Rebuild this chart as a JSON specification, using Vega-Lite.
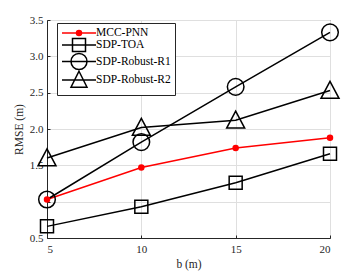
{
  "$schema": "https://vega.github.io/schema/vega-lite/v6.json",
  "width": 283,
  "height": 218,
  "autosize": {"type": "none"},
  "padding": {"left": 47, "top": 20, "right": 34, "bottom": 35},
  "background": "white",
  "config": {
    "font": "'Liberation Serif', 'Times New Roman', serif",
    "view": {"stroke": "#262626", "strokeWidth": 1},
    "axis": {
      "labelFont": "'Liberation Serif', 'Times New Roman', serif",
      "labelFontSize": 11,
      "labelColor": "#262626",
      "titleFont": "'Liberation Serif', 'Times New Roman', serif",
      "titleFontSize": 11.5,
      "titleFontWeight": "normal",
      "titleColor": "#262626",
      "domainColor": "#262626",
      "tickColor": "#262626",
      "tickSize": -3,
      "labelPadding": 7,
      "gridColor": "#dfdfdf",
      "gridWidth": 1
    },
    "legend": {
      "title": null,
      "orient": "none",
      "legendX": 10,
      "legendY": 3,
      "symbolSize": 100,
      "symbolOpacity": 1,
      "symbolStrokeWidth": 1.5,
      "labelOffset": 23,
      "labelFont": "'Liberation Serif', 'Times New Roman', serif",
      "labelFontSize": 11.5,
      "labelColor": "#000000",
      "fillColor": "white",
      "strokeColor": "#262626",
      "padding": 4,
      "rowPadding": -4.5
    }
  },
  "data": {
    "values": [
      {"b": 5, "rmse": 1.03, "series": "MCC-PNN"},
      {"b": 10, "rmse": 1.47, "series": "MCC-PNN"},
      {"b": 15, "rmse": 1.74, "series": "MCC-PNN"},
      {"b": 20, "rmse": 1.88, "series": "MCC-PNN"},
      {"b": 5, "rmse": 0.66, "series": "SDP-TOA"},
      {"b": 10, "rmse": 0.93, "series": "SDP-TOA"},
      {"b": 15, "rmse": 1.26, "series": "SDP-TOA"},
      {"b": 20, "rmse": 1.66, "series": "SDP-TOA"},
      {"b": 5, "rmse": 1.03, "series": "SDP-Robust-R1"},
      {"b": 10, "rmse": 1.82, "series": "SDP-Robust-R1"},
      {"b": 15, "rmse": 2.58, "series": "SDP-Robust-R1"},
      {"b": 20, "rmse": 3.33, "series": "SDP-Robust-R1"},
      {"b": 5, "rmse": 1.6, "series": "SDP-Robust-R2"},
      {"b": 10, "rmse": 2.02, "series": "SDP-Robust-R2"},
      {"b": 15, "rmse": 2.12, "series": "SDP-Robust-R2"},
      {"b": 20, "rmse": 2.53, "series": "SDP-Robust-R2"}
    ]
  },
  "encoding": {
    "x": {
      "field": "b",
      "type": "quantitative",
      "scale": {"domain": [5, 20], "nice": false, "zero": false},
      "axis": {"values": [5, 10, 15, 20], "title": "b (m)", "titlePadding": 4, "labelPadding": 8}
    },
    "y": {
      "field": "rmse",
      "type": "quantitative",
      "scale": {"domain": [0.5, 3.5], "nice": false, "zero": false},
      "axis": {
        "values": [0.5, 1, 1.5, 2, 2.5, 3, 3.5],
        "labelExpr": "datum.value == 1 ? '' : datum.label",
        "title": "RMSE (m)",
        "titlePadding": 5
      }
    }
  },
  "layer": [
    {
      "mark": {"type": "line", "strokeWidth": 1.5},
      "encoding": {
        "stroke": {
          "field": "series",
          "type": "nominal",
          "scale": {
            "domain": ["MCC-PNN", "SDP-TOA", "SDP-Robust-R1", "SDP-Robust-R2"],
            "range": ["#ff0000", "#000000", "#000000", "#000000"]
          },
          "legend": null
        }
      }
    },
    {
      "mark": {"type": "point", "strokeWidth": 1.5, "opacity": 1, "size": 16},
      "encoding": {
        "shape": {
          "field": "series",
          "type": "nominal",
          "scale": {
            "domain": ["MCC-PNN", "SDP-TOA", "SDP-Robust-R1", "SDP-Robust-R2"],
            "range": [
              "M-1.25,0A1.25,1.25 0 1 0 1.25,0A1.25,1.25 0 1 0 -1.25,0Z",
              "M-3.25,-3.25H3.25V3.25H-3.25Z",
              "M-4.15,0A4.15,4.15 0 1 0 4.15,0A4.15,4.15 0 1 0 -4.15,0Z",
              "M0,-4.6L4.5,3.9H-4.5Z"
            ]
          },
          "legend": null
        },
        "stroke": {
          "field": "series",
          "type": "nominal",
          "scale": {
            "domain": ["MCC-PNN", "SDP-TOA", "SDP-Robust-R1", "SDP-Robust-R2"],
            "range": ["#ff0000", "#000000", "#000000", "#000000"]
          },
          "legend": null
        },
        "fill": {
          "field": "series",
          "type": "nominal",
          "scale": {
            "domain": ["MCC-PNN", "SDP-TOA", "SDP-Robust-R1", "SDP-Robust-R2"],
            "range": ["#ff0000", "transparent", "transparent", "transparent"]
          },
          "legend": null
        }
      }
    },
    {
      "mark": {"type": "point", "opacity": 0, "strokeWidth": 1.5},
      "encoding": {
        "shape": {
          "field": "series",
          "type": "nominal",
          "scale": {
            "domain": ["MCC-PNN", "SDP-TOA", "SDP-Robust-R1", "SDP-Robust-R2"],
            "range": [
              "M-1,0H5.8M1.9,0A0.5,0.5 0 1 0 2.9,0A0.5,0.5 0 1 0 1.9,0Z",
              "M-1,0H5.8M1.1,-1.3H3.7V1.3H1.1Z",
              "M-1,0H5.8M0.8,0A1.6,1.6 0 1 0 4,0A1.6,1.6 0 1 0 0.8,0Z",
              "M-1,0H5.8M2.4,-1.75L4,1.45H0.8Z"
            ]
          }
        },
        "stroke": {
          "field": "series",
          "type": "nominal",
          "scale": {
            "domain": ["MCC-PNN", "SDP-TOA", "SDP-Robust-R1", "SDP-Robust-R2"],
            "range": ["#ff0000", "#000000", "#000000", "#000000"]
          }
        },
        "fill": {
          "field": "series",
          "type": "nominal",
          "scale": {
            "domain": ["MCC-PNN", "SDP-TOA", "SDP-Robust-R1", "SDP-Robust-R2"],
            "range": ["#ff0000", "transparent", "transparent", "transparent"]
          }
        }
      }
    }
  ],
  "resolve": {"scale": {"shape": "independent", "stroke": "independent", "fill": "independent"}}
}
